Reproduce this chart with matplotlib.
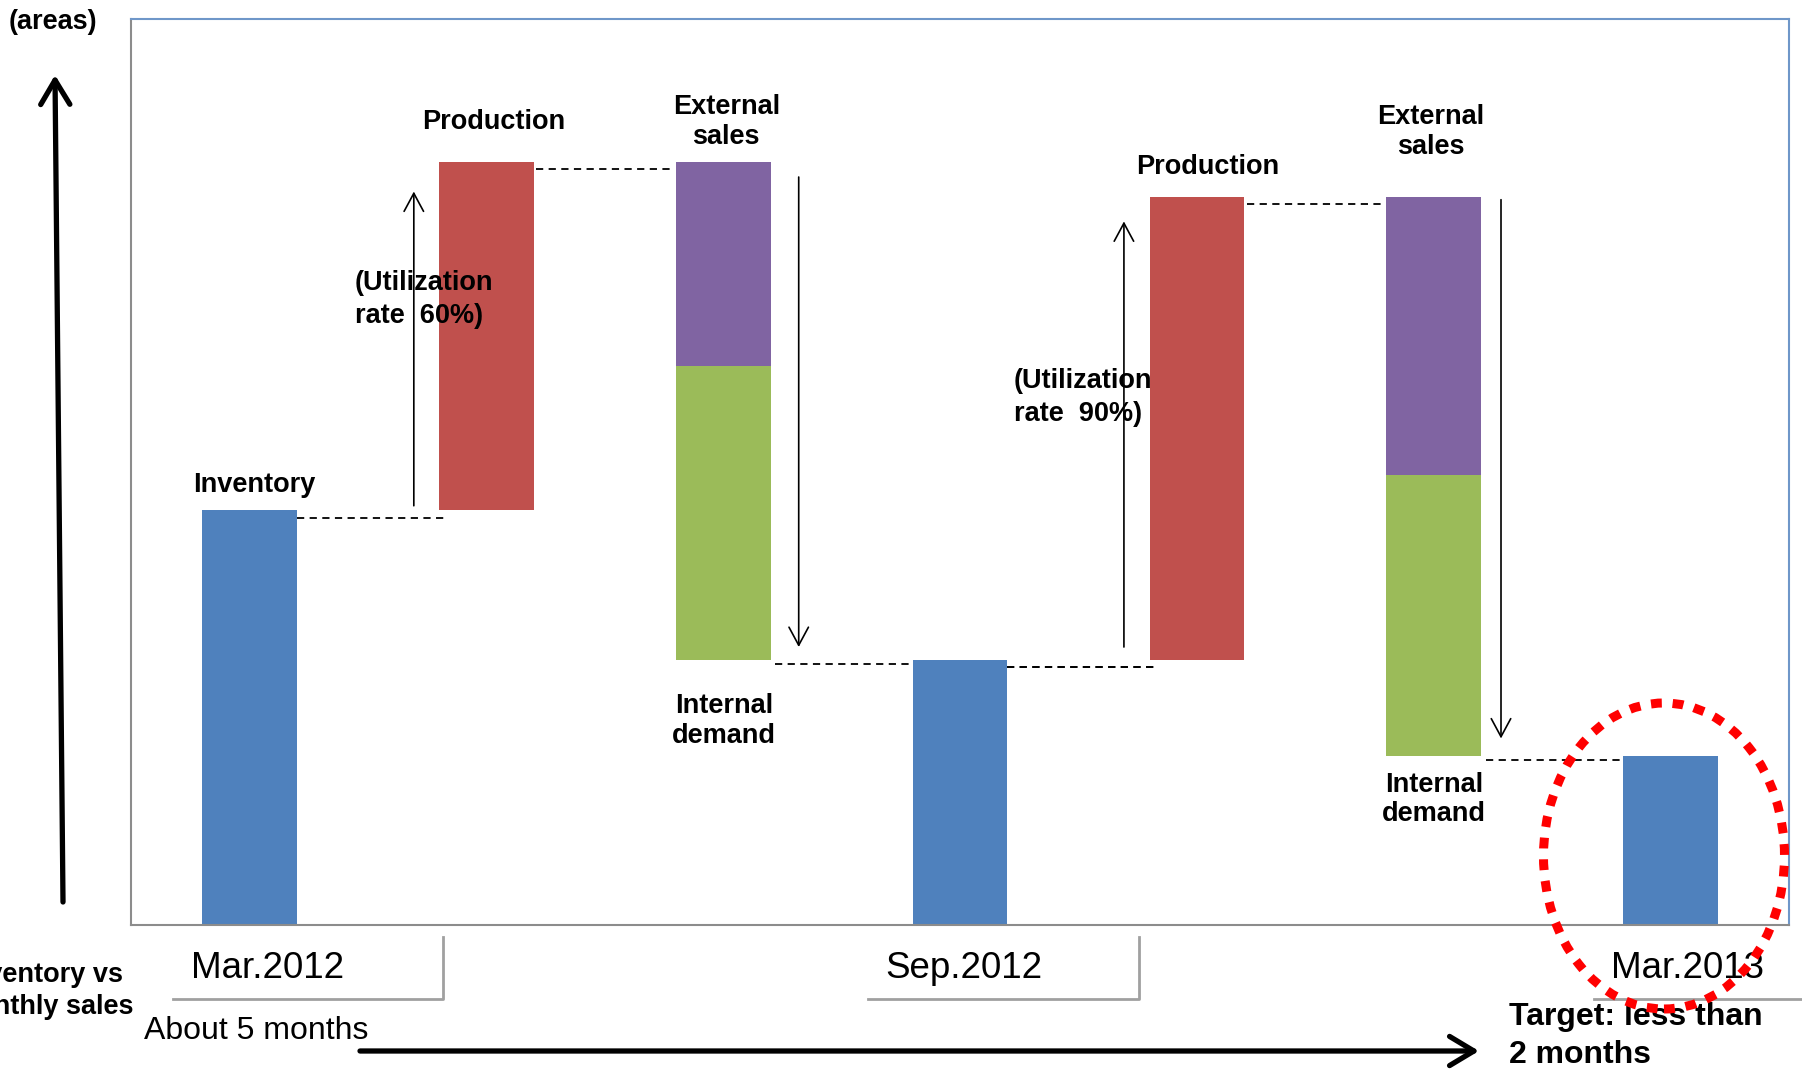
import matplotlib
matplotlib.use("Agg")
import matplotlib.pyplot as plt
from matplotlib.patches import Ellipse, FancyArrowPatch
from matplotlib.lines import Line2D

plt.rcParams['font.family'] = ['Liberation Sans', 'DejaVu Sans']

# ---------------- data (arbitrary "area" units) ----------------
periods = ["Mar.2012", "Sep.2012", "Mar.2013"]
inventory = [45.8, 29.3, 18.7]
production = [38.5, 51.1]
external_sales = [22.6, 30.7]
internal_demand = [32.4, 31.0]
utilization = ["60%", "90%"]

BLUE, RED, PURPLE, GREEN = "#4F81BD", "#C0504D", "#8064A2", "#9BBB59"
W = 0.40

fig = plt.figure(figsize=(18.02, 10.70), dpi=100)
ax = fig.add_axes([0.0727, 0.1355, 0.9201, 0.8463])
ax.set_xlim(-0.5, 6.5)
ax.set_ylim(0, 100)
ax.set_xticks([])
ax.set_yticks([])
for s in ["left", "bottom"]:
    ax.spines[s].set_color("#8C8C8C")
    ax.spines[s].set_linewidth(1.5)
for s in ["top", "right"]:
    ax.spines[s].set_color("#6F97C9")
    ax.spines[s].set_linewidth(1.5)

lbl = dict(fontsize=19.5, fontweight="bold", ha="center", va="center")
dash = dict(color="black", lw=1.3, ls=(0, (4, 3)))
thin = dict(arrowstyle="->,head_length=0.65,head_width=0.35", mutation_scale=20,
            color="black", lw=1.2, shrinkA=0, shrinkB=0)

# waterfall
x = 0
for k in range(2):
    inv = inventory[k]
    prod_top = inv + production[k]
    purple_bot = prod_top - external_sales[k]
    green_bot = purple_bot - internal_demand[k]
    # inventory bar
    ax.bar(x, inv, width=W, color=BLUE, zorder=2)
    # production bar
    ax.bar(x + 1, production[k], bottom=inv, width=W, color=RED, zorder=2)
    # external sales / internal demand stack
    ax.bar(x + 2, external_sales[k], bottom=purple_bot, width=W, color=PURPLE, zorder=2)
    ax.bar(x + 2, internal_demand[k], bottom=green_bot, width=W, color=GREEN, zorder=2)
    # connectors
    ax.plot([x + W / 2, x + 1 - W / 2 + 0.02], [inv - 0.8] * 2, **dash)
    ax.plot([x + 1 + W / 2 + 0.01, x + 2 - W / 2 - 0.02], [prod_top - 0.8] * 2, **dash)
    ax.plot([x + 2 + W / 2 + 0.02, x + 3 - W / 2], [green_bot - 0.5] * 2, **dash)
    x += 3
ax.bar(6, inventory[2], width=W, color=BLUE, zorder=2)

# connector from Sep inventory to second production
ax.plot([3 + W / 2, 4 - W / 2 + 0.02], [inventory[1] - 0.8] * 2, **dash)

# thin arrows
ax.add_patch(FancyArrowPatch((0.694, inventory[0] + 0.5), (0.694, inventory[0] + production[0] - 3.3), **thin))
ax.add_patch(FancyArrowPatch((2.319, inventory[0] + production[0] - 1.7), (2.319, inventory[1] + 1.4), **thin))
ax.add_patch(FancyArrowPatch((3.692, inventory[1] + 1.4), (3.692, inventory[1] + production[1] - 2.7), **thin))
ax.add_patch(FancyArrowPatch((5.284, inventory[1] + production[1] - 0.3), (5.284, inventory[2] + 1.9), **thin))

# bar labels
ax.text(0.019, inventory[0] + 2.75, "Inventory", **lbl)
ax.text(1.033, 88.65, "Production", **lbl)
ax.text(2.013, 88.65, "External\nsales", linespacing=1.18, **lbl)
ax.text(2.004, 22.55, "Internal\ndemand", linespacing=1.18, **lbl)
ax.text(0.446, 69.05, "(Utilization\nrate  " + utilization[0] + ")", fontsize=19.5,
        fontweight="bold", ha="left", va="center", linespacing=1.35)
ax.text(4.046, 83.75, "Production", **lbl)
ax.text(4.988, 87.55, "External\nsales", linespacing=1.18, **lbl)
ax.text(5.002, 13.85, "Internal\ndemand", linespacing=1.18, **lbl)
ax.text(3.226, 58.25, "(Utilization\nrate  " + utilization[1] + ")", fontsize=19.5,
        fontweight="bold", ha="left", va="center", linespacing=1.35)

# ---------------- figure-level annotations ----------------
FW, FH = 1802.0, 1070.0
def fx(px):
    return px / FW
def fy(py):
    return 1 - py / FH

fig.text(fx(9), fy(22), "(areas)", fontsize=19.5, fontweight="bold", ha="left", va="center")

for name, cx in zip(periods, [268, 964, 1688]):
    fig.text(fx(cx), fy(969), name, fontsize=26.5, ha="center", va="center")

fig.text(fx(43), fy(991), "Inventory vs\nmonthly sales", fontsize=19.5, fontweight="bold",
         ha="center", va="center", multialignment="center", linespacing=1.3)
fig.text(fx(144), fy(1031), "About 5 months", fontsize=23, ha="left", va="center")
fig.text(fx(1509), fy(1036), "Target: less than\n2 months", fontsize=23, fontweight="bold",
         ha="left", va="center", linespacing=1.38)

# gray bracket lines under the axis
gray = dict(color="#A0A0A0", lw=2.0, transform=fig.transFigure)
fig.add_artist(Line2D([fx(173), fx(443), fx(443)], [fy(999), fy(999), fy(937)], **gray))
fig.add_artist(Line2D([fx(868), fx(1139), fx(1139)], [fy(999), fy(999), fy(937)], **gray))
fig.add_artist(Line2D([fx(1594), fx(1802)], [fy(999), fy(999)], **gray))

# big arrows
big = dict(arrowstyle="->,head_length=0.7,head_width=0.42", mutation_scale=25,
           color="black", lw=3.8, shrinkA=0, shrinkB=0, transform=fig.transFigure)
fig.add_artist(FancyArrowPatch((fx(63), fy(902)), (fx(55), fy(75)), **big))
fig.add_artist(FancyArrowPatch((fx(360), fy(1051)), (fx(1479), fy(1051)), **big))

# red dotted ellipse
ell = Ellipse((fx(1664), fy(856)), width=241 / FW, height=306 / FH, transform=fig.transFigure,
              fill=False, edgecolor="#FF0000", lw=6.5, ls=(0, (1.2, 1.2)), zorder=10)
fig.add_artist(ell)

fig.savefig("out.png", dpi=100)
